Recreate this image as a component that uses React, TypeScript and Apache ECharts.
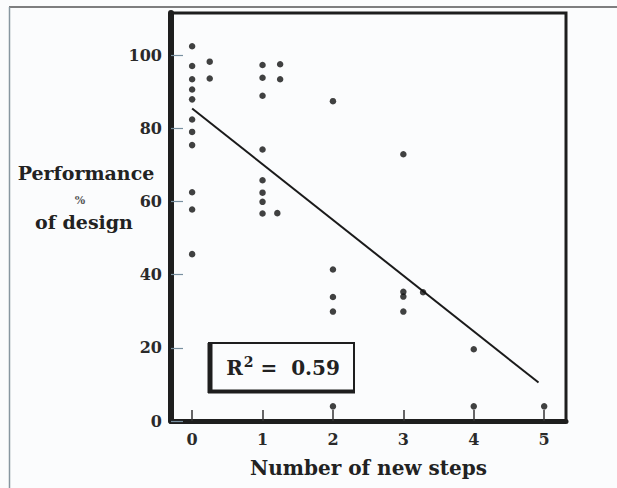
import React, { useEffect, useRef } from "react";
import * as echarts from "echarts";

// Scatter data: number of new steps vs performance (% of design)
const pointSteps = [
  0, 0, 0, 0, 0, 0, 0, 0, 0, 0, 0,
  0.25, 0.25,
  1, 1, 1, 1, 1, 1, 1, 1,
  1.25, 1.25, 1.21,
  2, 2, 2, 2, 2,
  3, 3, 3, 3,
  3.28,
  4, 4,
  5,
];
const pointPerformance = [
  102.4, 97, 93.4, 90.6, 87.9, 82.4, 79, 75.4, 62.5, 57.8, 45.6,
  98.2, 93.6,
  97.3, 93.8, 88.9, 74.2, 65.8, 62.4, 59.9, 56.7,
  97.5, 93.4, 56.8,
  87.4, 41.4, 33.9, 29.9, 4,
  72.9, 35.3, 34, 29.9,
  35.2,
  19.6, 4,
  4,
];

// Fitted regression line end points
const fitSteps = [0, 4.92];
const fitPerformance = [85.4, 10.5];

const xTicks = [0, 1, 2, 3, 4, 5];
const yTicks = [0, 20, 40, 60, 80, 100];
const rSquaredText = "0.59";

const FONT = "DejaVu Serif";
const INK = "#1e1e1e";

export default function App() {
  const ref = useRef<HTMLDivElement>(null);

  useEffect(() => {
    if (!ref.current) return;
    const chart = echarts.init(ref.current, undefined, { renderer: "svg" });
    const scatterData = pointSteps.map((x, i) => [x, pointPerformance[i]]);
    const fitData = fitSteps.map((x, i) => [x, fitPerformance[i]]);

    chart.setOption({
      animation: false,
      backgroundColor: "#fbfcfd",
      grid: {
        left: 171,
        right: 51,
        top: 13,
        bottom: 67,
        show: true,
        borderColor: INK,
        borderWidth: 3,
      },
      xAxis: {
        type: "value",
        min: -0.3,
        max: 5.31,
        splitLine: { show: false },
        axisLine: { show: true, onZero: false, lineStyle: { color: INK, width: 5 } },
        axisTick: {
          show: true,
          inside: true,
          length: 11,
          customValues: xTicks,
          lineStyle: { color: "#333", width: 1.5 },
        },
        axisLabel: {
          customValues: xTicks,
          margin: 10,
          color: "#2a2a2a",
          fontFamily: FONT,
          fontWeight: "bold",
          fontSize: 16,
        },
        name: "Number of new steps",
        nameLocation: "middle",
        nameGap: 37,
        nameTextStyle: {
          color: "#222",
          fontFamily: FONT,
          fontWeight: "bold",
          fontSize: 20,
        },
      },
      yAxis: {
        type: "value",
        min: 0,
        max: 111.5,
        splitLine: { show: false },
        axisLine: { show: true, onZero: false, lineStyle: { color: INK, width: 6 } },
        axisTick: {
          show: true,
          inside: true,
          length: 12,
          customValues: yTicks,
          lineStyle: { color: "#7890a0", width: 1.2 },
        },
        axisLabel: {
          customValues: yTicks,
          margin: 9,
          color: "#2a2a2a",
          fontFamily: FONT,
          fontWeight: "bold",
          fontSize: 16,
        },
      },
      series: [
        {
          type: "scatter",
          data: scatterData,
          symbol: "circle",
          symbolSize: 6.5,
          itemStyle: { color: "#111" },
          z: 3,
        },
        {
          type: "line",
          data: fitData,
          symbol: "none",
          lineStyle: { color: "#1a1a1a", width: 2 },
          z: 2,
        },
      ],
      graphic: [
        {
          type: "line",
          shape: { x1: 9, y1: 7, x2: 617, y2: 7 },
          style: { stroke: "#555", lineWidth: 1.5 },
        },
        {
          type: "line",
          shape: { x1: 9.5, y1: 7, x2: 9.5, y2: 488 },
          style: { stroke: "#8796a0", lineWidth: 1.5 },
        },
        {
          type: "rect",
          shape: { x: 209, y: 343, width: 145, height: 48 },
          style: { fill: "#fbfcfd", stroke: INK, lineWidth: 2 },
          z: 10,
        },
        {
          type: "line",
          shape: { x1: 210, y1: 343, x2: 210, y2: 393 },
          style: { stroke: INK, lineWidth: 5 },
          z: 11,
        },
        {
          type: "line",
          shape: { x1: 208, y1: 391.5, x2: 355, y2: 391.5 },
          style: { stroke: INK, lineWidth: 4 },
          z: 11,
        },
        {
          type: "text",
          x: 283,
          y: 368,
          z: 12,
          style: {
            text: "{a|R}{b|2}{a| =  " + rSquaredText + "}",
            align: "center",
            verticalAlign: "middle",
            rich: {
              a: { fontFamily: FONT, fontWeight: "bold", fontSize: 20, fill: "#222" },
              b: {
                fontFamily: FONT,
                fontWeight: "bold",
                fontSize: 14,
                fill: "#222",
                padding: [0, 0, 12, 1],
              },
            },
          },
        },
        {
          type: "text",
          x: 86,
          y: 173,
          style: {
            text: "Performance",
            align: "center",
            verticalAlign: "middle",
            fontFamily: FONT,
            fontWeight: "bold",
            fontSize: 19,
            fill: "#222",
          },
        },
        {
          type: "text",
          x: 80,
          y: 200,
          style: {
            text: "%",
            align: "center",
            verticalAlign: "middle",
            fontFamily: FONT,
            fontWeight: "bold",
            fontSize: 11,
            fill: "#555",
          },
        },
        {
          type: "text",
          x: 84,
          y: 222,
          style: {
            text: "of design",
            align: "center",
            verticalAlign: "middle",
            fontFamily: FONT,
            fontWeight: "bold",
            fontSize: 19,
            fill: "#222",
          },
        },
      ],
    });

    return () => chart.dispose();
  }, []);

  return (
    <div
      ref={ref}
      style={{ position: "fixed", left: 0, top: 0, width: 617, height: 488 }}
    />
  );
}
